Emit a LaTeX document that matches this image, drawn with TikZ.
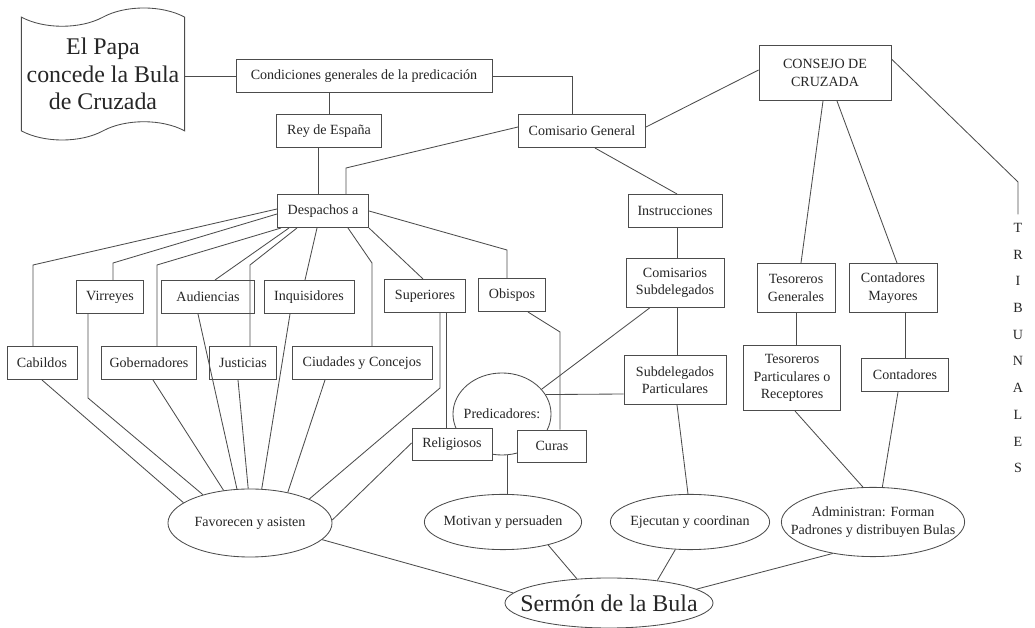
\documentclass[tikz,border=0pt]{standalone}
\usepackage{fontspec}
\setmainfont{Liberation Serif}
\usetikzlibrary{calc}
\usetikzlibrary{positioning}
\usetikzlibrary{shapes.geometric}
\usetikzlibrary{shapes.symbols}
\tikzstyle{caja} = [draw=black!70, line width=0.6pt, fill=white, rectangle, text=black!85, align=center, inner xsep=5pt, inner ysep=4pt, minimum height=0.83cm, font=\fontsize{10}{12.3}\selectfont]
\tikzstyle{elipse} = [draw=black!70, line width=0.6pt, fill=white, ellipse, text=black!85, align=center, inner xsep=-6pt, inner ysep=0pt, font=\fontsize{10}{12.3}\selectfont]
\tikzstyle{linea} = [draw=black!70, line width=0.6pt]

\begin{document}
\begin{tikzpicture}[x=0.025cm, y=-0.025cm]
    \useasboundingbox (0,0) rectangle (1035,628);

    \node[tape, draw=black!70, line width=0.6pt, fill=white, text=black!85, align=center, inner xsep=1pt, minimum width=4.08cm, minimum height=3.3cm, tape bend height=13pt, font=\fontsize{17}{19.5}\selectfont] (papa) at (103,74) {El Papa\\concede la Bula\\de Cruzada};
    \node[caja, minimum width=6.4cm] (condiciones) at (364,76) {Condiciones generales de la predicación};
    \node[caja, minimum width=2.63cm] (rey) at (329,131) {Rey de España};
    \node[caja, minimum width=3.18cm] (comisario) at (582,131) {Comisario General};
    \node[caja, minimum width=3.3cm, minimum height=1.38cm] (consejo) at (825,73) {CONSEJO DE\\CRUZADA};
    \node[caja, minimum width=2.28cm] (despachos) at (323,211) {Despachos a};

    \node[caja, minimum width=1.75cm] (cabildos) at (42,363) {Cabildos};
    \node[caja, minimum width=1.68cm] (virreyes) at (110,297) {Virreyes};
    \node[caja, minimum width=2.33cm] (audiencias) at (208,297) {Audiencias};
    \node[caja, minimum width=2.38cm] (gobernadores) at (149,363) {Gobernadores};
    \node[caja, minimum width=1.68cm] (justicias) at (243,363) {Justicias};
    \node[caja, minimum width=2.25cm] (inquisidores) at (309,297) {Inquisidores};
    \node[caja, minimum width=3.5cm] (ciudades) at (362,363) {Ciudades y Concejos};
    \node[caja, minimum width=2.03cm] (superiores) at (425,296) {Superiores};
    \node[caja, minimum width=1.68cm] (obispos) at (512,295) {Obispos};

    \node[elipse, minimum width=2.45cm, minimum height=2.05cm] (predicadores) at (502,414) {Predicadores:};
    \node[caja, minimum width=2cm, minimum height=0.8cm] (religiosos) at (452,444) {Religiosos};
    \node[caja, minimum width=1.73cm, minimum height=0.8cm] (curas) at (552,446) {Curas};

    \node[caja, minimum width=2.35cm] (instrucciones) at (675,211) {Instrucciones};
    \node[caja, minimum width=2.45cm, minimum height=1.23cm] (comisarios) at (675,283) {Comisarios\\Subdelegados};
    \node[caja, minimum width=2.55cm, minimum height=1.23cm] (subdelegados) at (675,380) {Subdelegados\\Particulares};
    \node[caja, minimum width=1.95cm, minimum height=1.23cm] (tesoreros_gen) at (796,288) {Tesoreros\\Generales};
    \node[caja, minimum width=2.2cm, minimum height=1.23cm] (contadores_may) at (893,288) {Contadores\\Mayores};
    \node[caja, minimum width=2.43cm, minimum height=1.63cm] (tesoreros_part) at (792,378) {Tesoreros\\Particulares o\\Receptores};
    \node[caja, minimum width=2.18cm] (contadores) at (905,375) {Contadores};
    \node[align=center, inner xsep=0pt, inner ysep=6pt, text=black!85, font=\fontsize{10}{19}\selectfont] (trib) at (1018,348) {T\\R\\I\\B\\U\\N\\A\\L\\E\\S};

    \node[elipse, minimum width=4.1cm, minimum height=1.7cm] (favorecen) at (250,523) {Favorecen y asisten};
    \node[elipse, minimum width=3.93cm, minimum height=1.38cm] (motivan) at (503,522) {Motivan y persuaden};
    \node[elipse, minimum width=3.98cm, minimum height=1.38cm] (ejecutan) at (690,522) {Ejecutan y coordinan};
    \node[elipse, minimum width=4.58cm, minimum height=1.73cm, inner xsep=-15pt] (administran) at (873,522) {Administran: Forman\\Padrones y distribuyen Bulas};
    \node[elipse, minimum width=5.2cm, minimum height=1.25cm, inner xsep=-12pt, font=\fontsize{17}{20}\selectfont] (sermon) at (609,603) {Sermón de la Bula};

    \draw[linea] (condiciones.west) -- (condiciones.west -| papa.east);
    \draw[linea] (condiciones.east) -| ($(comisario.north)+(-10,0)$);
    \draw[linea] (rey.north) -- (rey.north |- condiciones.south);
    \draw[linea] ($(rey.south)+(-11,0)$) -- ($(despachos.north)+(-5,0)$);
    \draw[linea] ($(comisario.west)+(0,-4)$) -- (346,168) -- ($(despachos.north)+(23,0)$);
    \draw[linea] ($(comisario.east)+(0,-4)$) -- ($(consejo.west)+(0,-3)$);
    \draw[linea] ($(comisario.south)+(13,0)$) -- ($(instrucciones.north)+(2,0)$);
    \draw[linea] ($(instrucciones.south)+(2,0)$) -- ($(comisarios.north)+(2,0)$);
    \draw[linea] ($(comisarios.south)+(2,0)$) -- ($(subdelegados.north)+(2,0)$);

    \draw[linea] ($(consejo.south)+(-2,0)$) -- ($(tesoreros_gen.north)+(5,0)$);
    \draw[linea] ($(consejo.south)+(12,0)$) -- ($(contadores_may.north)+(4,0)$);
    \draw[linea] ($(consejo.north east)+(0,14)$) -- (1018,182) -- (trib.north);
    \draw[linea] (tesoreros_gen.south) -- (tesoreros_gen.south |- tesoreros_part.north);
    \draw[linea] (contadores.north) -- (contadores.north |- contadores_may.south);

    \draw[linea] ($(despachos.west)+(0,-2)$) -- (33,265) -- ($(cabildos.north)+(-9,0)$);
    \draw[linea] ($(despachos.west)+(0,3)$) -- (113,263) -- ($(virreyes.north)+(3,0)$);
    \draw[linea] ($(despachos.south west)+(4,0)$) -- (157,265) -- ($(gobernadores.north)+(8,0)$);
    \draw[linea] ($(despachos.south west)+(12,0)$) -- ($(audiencias.north)+(7,0)$);
    \draw[linea] ($(despachos.south west)+(20,0)$) -- (250,265) -- ($(justicias.north)+(7,0)$);
    \draw[linea] ($(despachos.south)+(-6,0)$) -- ($(inquisidores.north)+(-4,0)$);
    \draw[linea] ($(despachos.south)+(25,0)$) -- (372,263) -- ($(ciudades.north)+(10,0)$);
    \draw[linea] (despachos.south east) -- ($(superiores.north)+(-2,0)$);
    \draw[linea] (despachos.east) -- (507,250) -- ($(obispos.north)+(-5,0)$);

    \draw[linea] (cabildos.south) -- (favorecen.163);
    \draw[linea] ($(virreyes.south)+(-22,0)$) -- (88,398) -- (favorecen.149);
    \draw[linea] ($(gobernadores.south)+(4,0)$) -- (favorecen.129);
    \draw[linea] ($(audiencias.south)+(-10,0)$) -- (favorecen.111);
    \draw[linea] ($(justicias.south)+(-5,0)$) -- (favorecen.93);
    \draw[linea] ($(inquisidores.south)+(-19,0)$) -- (favorecen.71);
    \draw[linea] ($(ciudades.south)+(-37,0)$) -- (favorecen.39);
    \draw[linea] ($(superiores.south)+(15,0)$) -- (440,388) -- (favorecen.22);
    \draw[linea] ($(religiosos.west)+(0,-1)$) -- (favorecen.2);

    \draw[linea] ($(superiores.south)+(21,0)$) -- ($(religiosos.north)+(-6,0)$);
    \draw[linea] ($(obispos.south)+(16,0)$) -- (560,332) -- ($(curas.north)+(8,0)$);
    \draw[linea] ($(comisarios.south west)+(24,0)$) -- (predicadores.32);
    \draw[linea] ($(subdelegados.west)+(0,14)$) -- (predicadores.24);
    \draw[linea] ($(predicadores.south)+(5,0)$) -- ($(motivan.north)+(4,0)$);
    \draw[linea] ($(subdelegados.south)+(2,0)$) -- ($(ejecutan.north)+(-2,0)$);
    \draw[linea] ($(tesoreros_part.south)+(3,0)$) -- (administran.106);
    \draw[linea] ($(contadores.south)+(-7,0)$) -- (administran.75);

    \draw[linea] (favorecen.-13) -- (sermon.174);
    \draw[linea] (motivan.-27) -- (sermon.143);
    \draw[linea] (ejecutan.-118) -- (sermon.25);
    \draw[linea] (administran.-142) -- (sermon.9);
\end{tikzpicture}
\end{document}
